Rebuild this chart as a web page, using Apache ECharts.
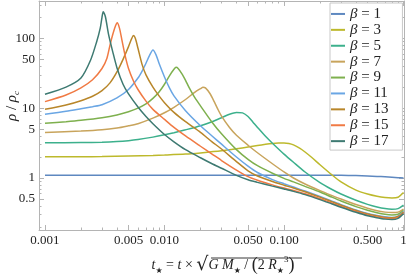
<!DOCTYPE html>
<html><head><meta charset="utf-8">
<script src="https://cdn.jsdelivr.net/npm/echarts@6/dist/echarts.min.js"></script>
<style>html,body{margin:0;padding:0;background:#fff}#c{width:411px;height:275px}</style>
</head><body><div id="c"></div>
<script>
// ---- data (t, rho/rho_c) ----
const BETAS = [1, 3, 5, 7, 9, 11, 13, 15, 17];
const COLORS = ['#5e88c0', '#bdb92c', '#3cb08c', '#c8a45c', '#7eb04e', '#6aa6e4', '#b8862a', '#f07a44', '#3e7a72'];

const T1 = [0.001, 0.01, 0.1, 0.2, 0.3, 0.4, 0.5, 0.6, 0.7, 0.8, 0.9, 1];
const R1 = [1.1, 1.1, 1.1, 1.1, 1.095, 1.085, 1.07, 1.055, 1.04, 1.025, 1.012, 1.0];

const T3 = [0.001, 0.002, 0.003, 0.005, 0.008, 0.01, 0.015, 0.02, 0.03, 0.04, 0.05, 0.06, 0.07, 0.08, 0.09, 0.1, 0.11, 0.12, 0.135, 0.15, 0.17, 0.2, 0.25, 0.3, 0.4, 0.5, 0.6, 0.7, 0.8, 0.9, 1];
const R3 = [2.02, 2.02, 2.03, 2.06, 2.1, 2.13, 2.2, 2.29, 2.45, 2.62, 2.78, 2.92, 3.04, 3.13, 3.18, 3.18, 3.12, 2.98, 2.68, 2.36, 1.98, 1.55, 1.12, 0.88, 0.67, 0.59, 0.548, 0.526, 0.518, 0.53, 0.62];

const T5 = [0.001, 0.002, 0.003, 0.004, 0.005, 0.006, 0.008, 0.01, 0.012, 0.015, 0.02, 0.025, 0.03, 0.035, 0.04, 0.045, 0.05, 0.055, 0.06, 0.07, 0.08, 0.1, 0.12, 0.15, 0.2, 0.25, 0.3, 0.4, 0.5, 0.6, 0.7, 0.8, 0.9, 1];
const R5 = [3.2, 3.22, 3.25, 3.32, 3.42, 3.55, 3.85, 4.15, 4.45, 4.9, 5.6, 6.4, 7.3, 8.2, 8.7, 8.55, 7.6, 6.3, 5.3, 3.95, 3.15, 2.2, 1.68, 1.22, 0.86, 0.69, 0.59, 0.48, 0.42, 0.385, 0.365, 0.358, 0.365, 0.41];

const T7 = [0.001, 0.002, 0.003, 0.004, 0.005, 0.006, 0.008, 0.01, 0.012, 0.015, 0.018, 0.02, 0.021, 0.022, 0.024, 0.026, 0.028, 0.03, 0.035, 0.04, 0.05, 0.06, 0.08, 0.1, 0.12, 0.15, 0.2, 0.25, 0.3, 0.4, 0.5, 0.6, 0.7, 0.8, 0.9, 1];
const R7 = [4.5, 4.7, 4.9, 5.2, 5.6, 6.0, 7.2, 8.6, 10.3, 13.3, 17.0, 19.0, 19.9, 19.5, 16.2, 12.5, 9.6, 7.7, 5.3, 4.1, 2.95, 2.3, 1.6, 1.22, 1.0, 0.82, 0.66, 0.565, 0.5, 0.418, 0.37, 0.34, 0.325, 0.32, 0.325, 0.36];

const T9 = [0.001, 0.0015, 0.002, 0.003, 0.004, 0.005, 0.006, 0.007, 0.008, 0.009, 0.01, 0.011, 0.012, 0.0125, 0.013, 0.014, 0.015, 0.016, 0.018, 0.02, 0.025, 0.03, 0.04, 0.05, 0.06, 0.08, 0.1, 0.12, 0.15, 0.2, 0.25, 0.3, 0.4, 0.5, 0.6, 0.7, 0.8, 0.9, 1];
const R9 = [6.07, 6.4, 6.7, 7.3, 8.0, 8.9, 10.0, 11.5, 13.8, 17, 22, 29, 36, 38.4, 37, 31, 25, 20, 14, 10.8, 6.3, 4.3, 2.55, 1.85, 1.5, 1.17, 0.99, 0.88, 0.76, 0.63, 0.535, 0.47, 0.39, 0.345, 0.318, 0.302, 0.296, 0.303, 0.345];

const T11 = [0.001, 0.0015, 0.002, 0.0025, 0.003, 0.004, 0.005, 0.006, 0.0065, 0.007, 0.0075, 0.008, 0.0085, 0.009, 0.01, 0.011, 0.012, 0.015, 0.02, 0.025, 0.03, 0.04, 0.05, 0.06, 0.08, 0.1, 0.12, 0.15, 0.2, 0.25, 0.3, 0.4, 0.5, 0.6, 0.7, 0.8, 0.9, 1];
const R11 = [8.17, 9.0, 9.8, 10.5, 11.2, 14.0, 18.5, 27, 34, 44, 57, 68, 58, 44, 28, 19.5, 15, 9.2, 5.6, 4.0, 3.05, 2.0, 1.48, 1.2, 0.95, 0.828, 0.743, 0.652, 0.543, 0.469, 0.416, 0.349, 0.311, 0.29, 0.278, 0.273, 0.285, 0.331];

const T13 = [0.001, 0.0015, 0.002, 0.0025, 0.003, 0.0035, 0.004, 0.0045, 0.005, 0.0053, 0.0055, 0.0057, 0.006, 0.0065, 0.007, 0.008, 0.009, 0.01, 0.012, 0.015, 0.02, 0.025, 0.03, 0.04, 0.05, 0.06, 0.08, 0.1, 0.12, 0.15, 0.2, 0.25, 0.3, 0.4, 0.5, 0.6, 0.7, 0.8, 0.9, 1];
const R13 = [9.63, 11.1, 12.8, 14.8, 17.8, 23, 33, 50, 76, 98, 110, 100, 72, 42, 30, 20, 15, 12, 8.7, 6.4, 4.5, 3.3, 2.6, 1.72, 1.27, 1.07, 0.89, 0.79, 0.72, 0.635, 0.533, 0.46, 0.408, 0.342, 0.305, 0.286, 0.273, 0.269, 0.281, 0.327];

const T15 = [0.001, 0.0015, 0.002, 0.0025, 0.003, 0.0033, 0.0035, 0.0037, 0.0039, 0.00402, 0.0042, 0.0044, 0.0047, 0.005, 0.0055, 0.006, 0.007, 0.008, 0.01, 0.012, 0.015, 0.02, 0.025, 0.03, 0.04, 0.05, 0.06, 0.08, 0.1, 0.12, 0.15, 0.2, 0.25, 0.3, 0.4, 0.5, 0.6, 0.7, 0.8, 0.9, 1];
const R15 = [12.4, 15.4, 19.5, 25.5, 37, 52, 80, 115, 152, 167, 140, 95, 55, 37, 24.5, 18.5, 12.6, 9.6, 6.9, 5.3, 4.0, 2.85, 2.2, 1.78, 1.3, 1.047, 0.929, 0.798, 0.718, 0.663, 0.595, 0.506, 0.441, 0.393, 0.333, 0.297, 0.278, 0.266, 0.262, 0.273, 0.318];

const T17 = [0.001, 0.0015, 0.002, 0.0024, 0.0027, 0.0029, 0.003, 0.00307, 0.0032, 0.0034, 0.0037, 0.004, 0.0045, 0.005, 0.006, 0.007, 0.008, 0.01, 0.012, 0.015, 0.02, 0.025, 0.03, 0.04, 0.05, 0.06, 0.08, 0.1, 0.12, 0.15, 0.2, 0.25, 0.3, 0.4, 0.5, 0.6, 0.7, 0.8, 0.9, 1];
const R17 = [15.8, 20, 27, 48, 88, 140, 200, 240, 205, 115, 63, 38, 22, 16, 10.4, 7.6, 6.0, 4.2, 3.3, 2.55, 1.95, 1.6, 1.38, 1.09, 0.944, 0.867, 0.766, 0.697, 0.644, 0.578, 0.491, 0.428, 0.382, 0.323, 0.288, 0.27, 0.258, 0.254, 0.265, 0.309];

const X_TICKS = [0.001, 0.005, 0.01, 0.05, 0.1, 0.5, 1];
const X_TICK_LABELS = ['0.001', '0.005', '0.010', '0.050', '0.100', '0.500', '1'];
const Y_TICKS = [0.5, 1, 5, 10, 50, 100];
const Y_TICK_LABELS = ['0.5', '1', '5', '10', '50', '100'];

const T_ALL = [T1, T3, T5, T7, T9, T11, T13, T15, T17];
const R_ALL = [R1, R3, R5, R7, R9, R11, R13, R15, R17];

// ---- helpers ----
const L = Math.log10;
const XMIN = -3.05, XMAX = 0.004, YMIN = -0.744, YMAX = 2.534;
function minorTicks(lo, hi, majors) {
  const out = [];
  for (let d = -4; d <= 3; d++) for (let m = 1; m <= 9; m++) {
    const v = m * Math.pow(10, d), lv = L(v);
    if (lv < lo || lv > hi) continue;
    if (majors.some(x => Math.abs(L(x) - lv) < 1e-9)) continue;
    out.push(lv);
  }
  return out;
}
const XMAJ = X_TICKS.map(L), YMAJ = Y_TICKS.map(L);
const XMIN_T = minorTicks(XMIN, XMAX, X_TICKS), YMIN_T = minorTicks(YMIN, YMAX, Y_TICKS);
const FRAME = '#b4b4b4', TXT = '#222', SERIF = 'Liberation Serif';
function lab(maj, labels) {
  return v => { const i = maj.findIndex(m => Math.abs(m - v) < 1e-6); return i >= 0 ? labels[i] : ''; };
}
function xAx(pos, ticks, len, showLine, showLabel) {
  return {
    type: 'value', position: pos, min: XMIN, max: XMAX, splitLine: { show: false },
    axisLine: { show: showLine, onZero: false, lineStyle: { color: FRAME, width: 1 } },
    axisTick: { show: true, inside: true, length: len, customValues: ticks, lineStyle: { color: FRAME, width: 1 } },
    axisLabel: showLabel ? { show: true, customValues: XMAJ, formatter: lab(XMAJ, X_TICK_LABELS), margin: 4, color: TXT, fontFamily: SERIF, fontSize: 13 } : { show: false }
  };
}
function yAx(pos, ticks, len, showLine, showLabel) {
  return {
    type: 'value', position: pos, min: YMIN, max: YMAX, splitLine: { show: false },
    axisLine: { show: showLine, onZero: false, lineStyle: { color: FRAME, width: 1 } },
    axisTick: { show: true, inside: true, length: len, customValues: ticks, lineStyle: { color: FRAME, width: 1 } },
    axisLabel: showLabel ? { show: true, customValues: YMAJ, formatter: lab(YMAJ, Y_TICK_LABELS), margin: 4, color: TXT, fontFamily: SERIF, fontSize: 13 } : { show: false }
  };
}

const series = BETAS.map((b, k) => ({
  name: 'β = ' + b, type: 'line', xAxisIndex: 0, yAxisIndex: 0,
  data: T_ALL[k].map((t, i) => [L(t), L(R_ALL[k][i])]),
  showSymbol: false, smooth: 0.25,
  lineStyle: { color: COLORS[k], width: 1.5 }, itemStyle: { color: COLORS[k] },
  emphasis: { disabled: true }, animation: false
}));

const chart = echarts.init(document.getElementById('c'), null, { renderer: 'canvas' });
chart.setOption({
  animation: false,
  grid: { left: 39, right: 7, top: 1, bottom: 45, outerBoundsMode: 'none' },
  xAxis: [xAx('bottom', XMAJ, 5, true, true), xAx('bottom', XMIN_T, 2.5, false, false),
          xAx('top', XMAJ, 5, true, false), xAx('top', XMIN_T, 2.5, false, false)],
  yAxis: [yAx('left', YMAJ, 5, true, true), yAx('left', YMIN_T, 2.5, false, false),
          yAx('right', YMAJ, 5, true, false), yAx('right', YMIN_T, 2.5, false, false)],
  legend: {
    orient: 'vertical', left: 330, top: 3, icon: 'rect', itemWidth: 14, itemHeight: 2, itemGap: 0,
    padding: [3, 14, 1, 1], backgroundColor: '#fff', borderColor: '#c8c8c8', borderWidth: 1,
    formatter: n => '{i|β}{n| = ' + n.split('= ')[1] + '}',
    textStyle: { color: TXT, fontFamily: SERIF, fontSize: 15, lineHeight: 15.9,
      rich: { i: { fontFamily: SERIF, fontStyle: 'italic', fontSize: 15, lineHeight: 15.9, color: TXT },
              n: { fontFamily: SERIF, fontSize: 15, lineHeight: 15.9, color: TXT } } }
  },
  graphic: [
    { type: 'text', x: 12, y: 106, rotation: Math.PI / 2,
      style: { text: '{i|ρ}{n| / }{i|ρ}{s|c}', align: 'center', verticalAlign: 'middle', fill: TXT,
        rich: { i: { fontFamily: SERIF, fontStyle: 'italic', fontSize: 15, lineHeight: 18 },
                n: { fontFamily: SERIF, fontSize: 15, lineHeight: 18 },
                s: { fontFamily: SERIF, fontStyle: 'italic', fontSize: 9, lineHeight: 18, verticalAlign: 'bottom' } } } },
    { type: 'text', x: 223, y: 265,
      style: { text: '{i|t}{s|★}{n| = }{i|t}{n| × }{r|√}{i|G M}{s|★}{n| / }{p|(}{n|2 }{i|R}{s|★}{u|3}{p|)}',
        align: 'center', verticalAlign: 'middle', fill: TXT,
        rich: { i: { fontFamily: SERIF, fontStyle: 'italic', fontSize: 14, lineHeight: 20 },
                n: { fontFamily: SERIF, fontSize: 14, lineHeight: 20 },
                s: { fontFamily: 'DejaVu Sans', fontSize: 8, lineHeight: 17, verticalAlign: 'bottom' },
                u: { fontFamily: SERIF, fontSize: 9, lineHeight: 20, verticalAlign: 'top' },
                r: { fontFamily: 'DejaVu Serif', fontSize: 19, lineHeight: 20 },
                p: { fontFamily: SERIF, fontSize: 18, lineHeight: 20 } } } },
    { type: 'line', shape: { x1: 211, y1: 258, x2: 302, y2: 258 }, style: { stroke: TXT, lineWidth: 0.9 } }
  ],
  series: series
});
</script></body></html>
